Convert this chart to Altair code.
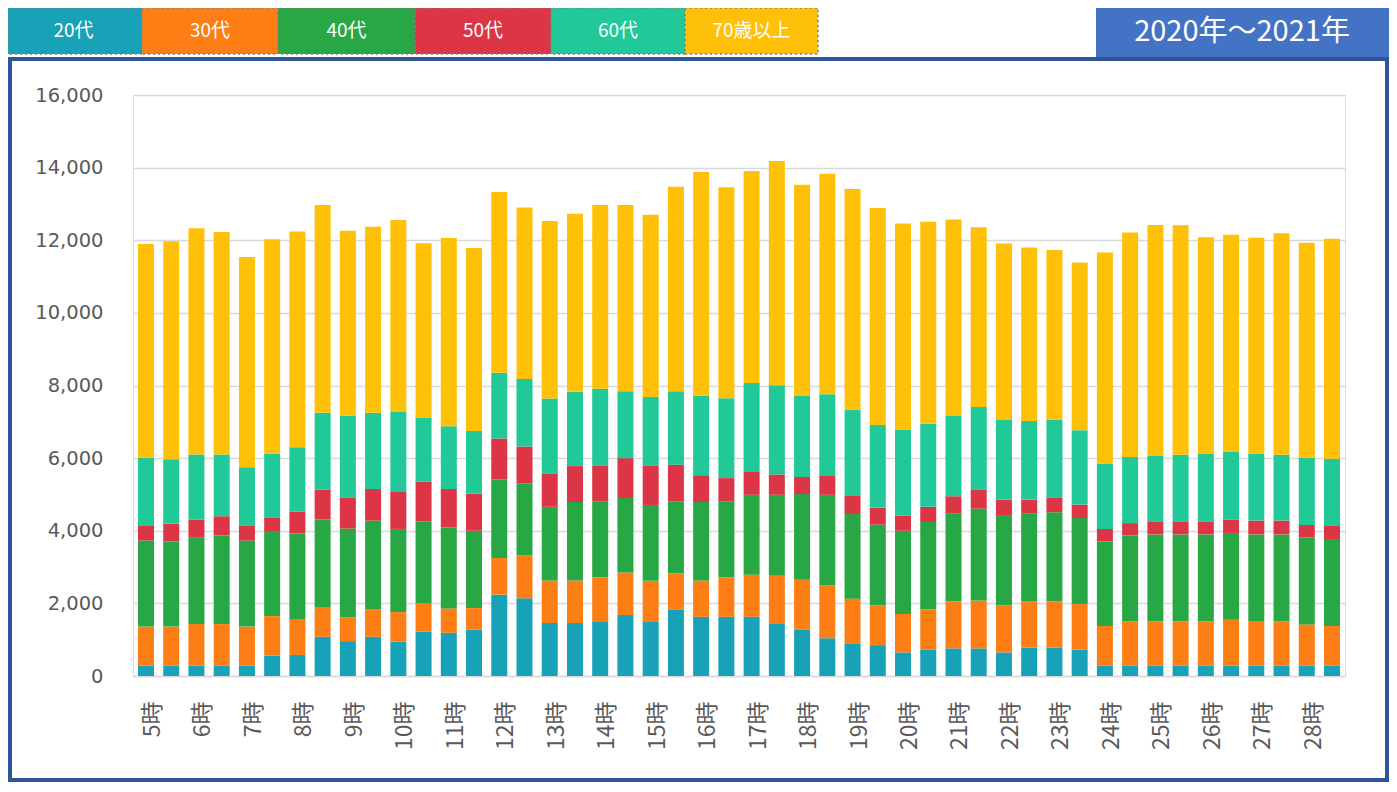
import altair as alt
import pandas as pd

# ---------------- data ----------------
hours = list(range(5, 29))
categories = []
for h in hours:
    categories += [f"{h}時", f"{h}時30分"]

groups = ["20代", "30代", "40代", "50代", "60代", "70歳以上"]
colors = ["#17A2B8", "#FD7E14", "#28A745", "#DC3545", "#20C997", "#FFC107"]

s20 = [280, 280, 280, 280, 280, 560, 580, 1080, 960, 1080, 950, 1220, 1190, 1280,
       2240, 2140, 1460, 1460, 1510, 1680, 1510, 1820, 1630, 1630, 1630, 1450, 1270, 1040,
       900, 850, 650, 720, 760, 760, 650, 780, 780, 730,
       280, 280, 280, 280, 280, 280, 280, 280, 280, 280]
s30 = [1080, 1080, 1150, 1150, 1080, 1090, 990, 820, 650, 760, 810, 790, 670, 590,
       1010, 1190, 1170, 1170, 1200, 1170, 1110, 1000, 1000, 1080, 1160, 1310, 1380, 1450,
       1230, 1090, 1060, 1110, 1290, 1320, 1290, 1280, 1270, 1250,
       1100, 1220, 1220, 1220, 1220, 1270, 1230, 1220, 1140, 1100]
s40 = [2370, 2340, 2380, 2440, 2370, 2340, 2350, 2420, 2450, 2440, 2290, 2240, 2230, 2130,
       2160, 1980, 2030, 2160, 2100, 2050, 2090, 1980, 2160, 2090, 2200, 2230, 2360, 2500,
       2330, 2230, 2290, 2410, 2430, 2530, 2470, 2420, 2460, 2370,
       2320, 2370, 2400, 2400, 2400, 2390, 2390, 2400, 2390, 2390]
s50 = [420, 490, 500, 530, 420, 380, 610, 810, 860, 870, 1020, 1100, 1060, 1020,
       1130, 1010, 920, 990, 990, 1100, 1090, 1020, 740, 650, 630, 560, 470, 520,
       500, 460, 420, 420, 470, 530, 450, 380, 410, 370,
       350, 340, 360, 360, 360, 370, 380, 380, 350, 380]
s60 = [1860, 1780, 1790, 1700, 1600, 1750, 1770, 2120, 2250, 2100, 2200, 1770, 1730, 1730,
       1810, 1860, 2060, 2050, 2110, 1840, 1880, 2020, 2190, 2200, 2450, 2460, 2230, 2250,
       2380, 2280, 2360, 2290, 2210, 2270, 2190, 2160, 2140, 2050,
       1800, 1820, 1810, 1830, 1870, 1870, 1840, 1810, 1860, 1830]
s70 = [5890, 6000, 6230, 6130, 5790, 5910, 5940, 5720, 5090, 5120, 5290, 4800, 5180, 5040,
       4980, 4720, 4890, 4900, 5060, 5130, 5020, 5630, 6160, 5810, 5840, 6170, 5820, 6070,
       6070, 5980, 5680, 5560, 5410, 4950, 4860, 4780, 4670, 4620,
       5810, 6180, 6350, 6320, 5950, 5970, 5950, 6100, 5910, 6060]

title_text = "2020年～2021年"
y_ticks = list(range(0, 16001, 2000))

series = [s20, s30, s40, s50, s60, s70]
rows = []
for gi, g in enumerate(groups):
    for ci, c in enumerate(categories):
        rows.append({"cat": c, "group": g, "order": gi, "value": series[gi][ci]})
df = pd.DataFrame(rows)

# ---------------- layout (pixels, relative to plot area) ----------------
W, H = 1212, 581
PAD_L, PAD_T, PAD_R, PAD_B = 125, 87, 44, 107
leg_edges = [-125, 9, 145, 282, 418, 552, 685]
leg_df = pd.DataFrame({
    "name": groups,
    "color": colors,
    "x0": leg_edges[:-1],
    "x1": leg_edges[1:],
})
leg_df["xc"] = (leg_df["x0"] + leg_df["x1"]) / 2
leg_df.loc[0, "xc"] = (-128 + 9) / 2

one = pd.DataFrame({"k": [0]})

frame = alt.Chart(one).mark_rect(fill=None, stroke="#2F5597", strokeWidth=4).encode(
    x=alt.value(-123), x2=alt.value(1254), y=alt.value(-36), y2=alt.value(685)
)

leg_rect = alt.Chart(leg_df).mark_rect(
    stroke="#7F7F7F", strokeDash=[2, 3], strokeWidth=1.5
).encode(
    x=alt.X("x0:Q", scale=None, axis=None),
    x2="x1:Q",
    y=alt.value(-87),
    y2=alt.value(-41),
    fill=alt.Fill("color:N", scale=None, legend=None),
)
leg_text = alt.Chart(leg_df).mark_text(
    color="white", font="Noto Sans CJK JP", fontSize=19, baseline="middle", align="center"
).encode(
    x=alt.X("xc:Q", scale=None, axis=None),
    y=alt.value(-64),
    text="name:N",
)

title_rect = alt.Chart(one).mark_rect(fill="#4472C4").encode(
    x=alt.value(963), x2=alt.value(1256), y=alt.value(-87), y2=alt.value(-38)
)
title = alt.Chart(one).mark_text(
    text=title_text, color="white", font="Noto Sans CJK JP", fontSize=29,
    align="center", baseline="middle"
).encode(x=alt.value(1109), y=alt.value(-63))

bars = alt.Chart(df).mark_bar().encode(
    x=alt.X(
        "cat:N", sort=categories,
        scale=alt.Scale(paddingInner=0.366, paddingOuter=0.198),
        axis=alt.Axis(
            title=None, labelAngle=-90, ticks=False, domain=True,
            domainColor="#D9D9D9", domainWidth=1.5,
            labelExpr="test(/分/, datum.label) ? '' : datum.label",
            labelFont="Noto Sans CJK JP", labelFontSize=23, labelColor="#595959",
            labelPadding=25, labelOffset=7, labelOverlap=False, labelBound=False,
        ),
    ),
    y=alt.Y(
        "value:Q", stack="zero",
        scale=alt.Scale(domain=[0, 16000], nice=False),
        axis=alt.Axis(
            title=None, values=y_ticks,
            labelExpr="format(datum.value, ',.0f')", grid=True,
            gridColor="#D9D9D9", gridWidth=1.5, domain=False, ticks=False,
            labelFont="DejaVu Sans", labelFontSize=19.5, labelColor="#595959",
            labelPadding=30,
        ),
    ),
    color=alt.Color("group:N", scale=alt.Scale(domain=groups, range=colors), legend=None),
    order=alt.Order("order:Q", sort="ascending"),
)

chart = alt.layer(frame, bars, leg_rect, leg_text, title_rect, title).resolve_scale(
    x="independent"
).properties(
    width=W, height=H,
    autosize=alt.AutoSizeParams(type="none"),
    padding={"left": PAD_L, "top": PAD_T, "right": PAD_R, "bottom": PAD_B},
).configure_view(stroke=None).configure(background="white")

chart.save("out.html", embed_options={"renderer": "svg", "actions": False})
